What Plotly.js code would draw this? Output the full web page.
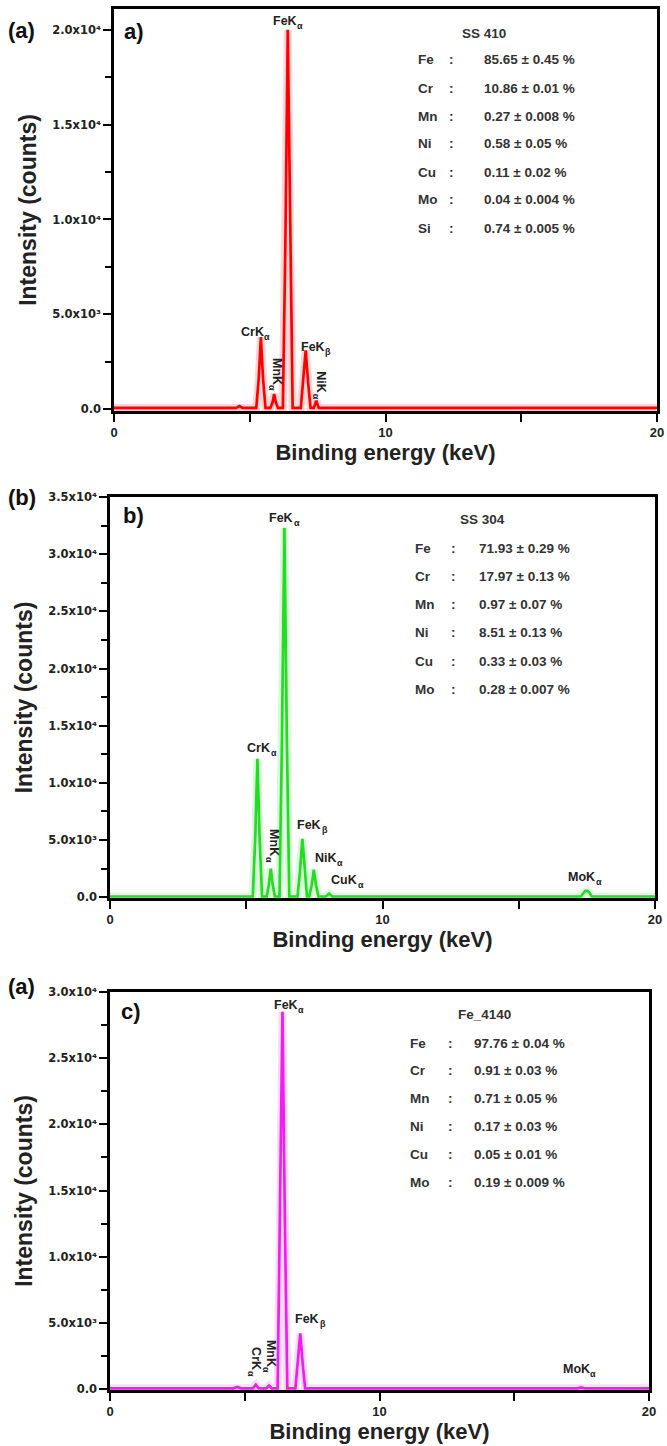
<!DOCTYPE html>
<html><head><meta charset="utf-8">
<script src="https://cdn.plot.ly/plotly-3.0.1.min.js"></script>
<style>html,body{margin:0;padding:0;background:#fff;}#chart{width:667px;height:1446px;}</style>
</head><body><div id="chart"></div>
<script>
// ---------------- DATA ----------------
// Panel a) SS 410 spectrum (energy keV, counts)
const energyA = [0, 4.5, 4.62, 4.74, 5.24, 5.33, 5.41, 5.49, 5.58, 5.76, 5.84, 5.90, 5.96, 6.04, 6.22, 6.31, 6.40, 6.49, 6.58, 6.88, 6.97, 7.06, 7.15, 7.24, 7.36, 7.45, 7.54, 20];
const countsA = [60, 60, 160, 60, 60, 1600, 3800, 1600, 60, 60, 360, 800, 360, 60, 60, 8500, 20000, 8500, 60, 60, 1400, 3100, 1400, 60, 60, 450, 60, 60];
// Panel b) SS 304 spectrum
const energyB = [0, 5.0, 5.24, 5.33, 5.41, 5.49, 5.58, 5.75, 5.83, 5.90, 5.97, 6.05, 6.22, 6.31, 6.40, 6.49, 6.58, 6.88, 6.97, 7.06, 7.15, 7.23, 7.31, 7.40, 7.48, 7.56, 7.65, 7.92, 8.04, 8.16, 17.28, 17.37, 17.44, 17.52, 17.59, 17.68, 20];
const countsB = [60, 60, 60, 5200, 12100, 5200, 60, 60, 1100, 2500, 1100, 60, 60, 13800, 32300, 13800, 60, 60, 2200, 5100, 2200, 60, 60, 1050, 2400, 1050, 60, 60, 320, 60, 60, 400, 560, 560, 400, 60, 60];
// Panel c) Fe_4140 spectrum
const energyC = [0, 4.58, 4.72, 4.86, 5.30, 5.41, 5.52, 5.80, 5.90, 6.00, 6.22, 6.31, 6.40, 6.49, 6.58, 6.88, 6.97, 7.06, 7.15, 7.24, 17.35, 17.48, 17.61, 20];
const countsC = [60, 60, 160, 60, 60, 330, 60, 60, 260, 60, 60, 12500, 28500, 12500, 60, 60, 1900, 4200, 1900, 60, 60, 130, 60, 60];

// Peak labels (line name + subscript)
const peakMainA = ['FeK', 'CrK', 'MnK', 'FeK', 'NiK'];
const peakSubA = ['α', 'α', 'α', 'β', 'α'];
const peakEnergyA = [6.40, 5.41, 5.90, 7.06, 7.45];
const peakHeightA = [20000, 3800, 800, 3100, 450];
const peakMainB = ['FeK', 'CrK', 'MnK', 'FeK', 'NiK', 'CuK', 'MoK'];
const peakSubB = ['α', 'α', 'α', 'β', 'α', 'α', 'α'];
const peakEnergyB = [6.40, 5.41, 5.90, 7.06, 7.48, 8.04, 17.48];
const peakHeightB = [32300, 12100, 2500, 5100, 2400, 320, 560];
const peakMainC = ['FeK', 'CrK', 'MnK', 'FeK', 'MoK'];
const peakSubC = ['α', 'α', 'α', 'β', 'α'];
const peakEnergyC = [6.40, 5.41, 5.90, 7.06, 17.48];
const peakHeightC = [28500, 330, 260, 4200, 130];

// Composition tables
const sampleA = 'SS 410';
const elementsA = ['Fe', 'Cr', 'Mn', 'Ni', 'Cu', 'Mo', 'Si'];
const valuesA = ['85.65 ± 0.45 %', '10.86 ± 0.01 %', '0.27 ± 0.008 %', '0.58 ± 0.05 %', '0.11 ± 0.02 %', '0.04 ± 0.004 %', '0.74 ± 0.005 %'];
const sampleB = 'SS 304';
const elementsB = ['Fe', 'Cr', 'Mn', 'Ni', 'Cu', 'Mo'];
const valuesB = ['71.93 ± 0.29 %', '17.97 ± 0.13 %', '0.97 ± 0.07 %', '8.51 ± 0.13 %', '0.33 ± 0.03 %', '0.28 ± 0.007 %'];
const sampleC = 'Fe_4140';
const elementsC = ['Fe', 'Cr', 'Mn', 'Ni', 'Cu', 'Mo'];
const valuesC = ['97.76 ± 0.04 %', '0.91 ± 0.03 %', '0.71 ± 0.05 %', '0.17 ± 0.03 %', '0.05 ± 0.01 %', '0.19 ± 0.009 %'];

// Tick labels
const xTickVals = [0, 10, 20];
const xTickText = ['0', '10', '20'];
const yTickValsA = [0, 5000, 10000, 15000, 20000];
const yTickTextA = ['0.0', '5.0x10³', '1.0x10⁴', '1.5x10⁴', '2.0x10⁴'];
const yTickValsB = [0, 5000, 10000, 15000, 20000, 25000, 30000, 35000];
const yTickTextB = ['0.0', '5.0x10³', '1.0x10⁴', '1.5x10⁴', '2.0x10⁴', '2.5x10⁴', '3.0x10⁴', '3.5x10⁴'];
const yTickValsC = [0, 5000, 10000, 15000, 20000, 25000, 30000];
const yTickTextC = ['0.0', '5.0x10³', '1.0x10⁴', '1.5x10⁴', '2.0x10⁴', '2.5x10⁴', '3.0x10⁴'];

const outerLabels = ['(a)', '(b)', '(a)'];
const innerLabels = ['a)', 'b)', 'c)'];
const xTitle = 'Binding energy (keV)';
const yTitle = 'Intensity (counts)';

// ---------------- LAYOUT / STYLE ----------------
const W = 667, H = 1446;
const fx = p => p / W;
const fy = p => 1 - p / H;
const FONT = 'Liberation Sans, Arial, sans-serif';
const TICKFONT = 'DejaVu Sans, Liberation Sans, sans-serif';
const LBL = 12.5, SUB = 9;

const ctx = document.createElement('canvas').getContext('2d');
function textW(t, size) { ctx.font = 'bold ' + size + 'px "Liberation Sans", Arial, sans-serif'; return ctx.measureText(t).width; }

const panels = [
  {e: energyA, c: countsA, color: '#ff0000', box: [114, 657, 9, 411], yr: [-100, 21100], tv: yTickValsA, tt: yTickTextA,
   main: peakMainA, sub: peakSubA, pe: peakEnergyA, ph: peakHeightA,
   shifts: [[0, 9, 0], [-6, 5, 0], [3, 20, 90], [10, 3, 0], [5, 15, 90]],
   sample: sampleA, els: elementsA, vals: valuesA, tab: {tx: 484, ty: 33, ex: 416, cx: 452, vx: 482, y0: 60, dy: 28},
   outer: [6, 30], inner: [122, 31]},
  {e: energyB, c: countsB, color: '#22dd22', box: [110, 655, 497, 898], yr: [-70, 35000], tv: yTickValsB, tt: yTickTextB,
   main: peakMainB, sub: peakSubB, pe: peakEnergyB, ph: peakHeightB,
   shifts: [[0, 10, 0], [4, 11, 0], [3, 23, 90], [10, 14, 0], [15, 12, 0], [18, 14, 0], [-2, 14, 0]],
   sample: sampleB, els: elementsB, vals: valuesB, tab: {tx: 482, ty: 519, ex: 413, cx: 453, vx: 477, y0: 548, dy: 28.3},
   outer: [6, 497], inner: [121, 515]},
  {e: energyC, c: countsC, color: '#f01ef0', box: [110, 649, 992, 1390], yr: [-70, 30000], tv: yTickValsC, tt: yTickTextC,
   main: peakMainC, sub: peakSubC, pe: peakEnergyC, ph: peakHeightC,
   shifts: [[6, 7, 0], [0, 23, 90], [2, 30, 90], [10, 14, 0], [-2, 18, 0]],
   sample: sampleC, els: elementsC, vals: valuesC, tab: {tx: 484, ty: 1015, ex: 408, cx: 450, vx: 472, y0: 1043, dy: 27.8},
   outer: [6, 986], inner: [119, 1012]}
];

const traces = [];
const layout = {
  width: W, height: H,
  margin: {l: 0, r: 0, t: 0, b: 0},
  paper_bgcolor: '#ffffff', plot_bgcolor: '#ffffff',
  showlegend: false,
  annotations: []
};

panels.forEach((p, i) => {
  const n = i === 0 ? '' : String(i + 1);
  const xa = 'x' + n, ya = 'y' + n;
  // soft halo (blur of the scanned figure)
  traces.push({x: p.e, y: p.c, xaxis: xa, yaxis: ya, type: 'scatter', mode: 'lines',
    line: {color: p.color, width: 8}, opacity: 0.16, hoverinfo: 'skip'});
  traces.push({x: p.e, y: p.c, xaxis: xa, yaxis: ya, type: 'scatter', mode: 'lines',
    line: {color: p.color, width: 2.7}, name: p.sample});

  const [l, r, t, b] = p.box;
  layout['xaxis' + n] = {
    domain: [fx(l), fx(r)], anchor: ya, range: [0, 20],
    tickmode: 'array', tickvals: xTickVals, ticktext: xTickText,
    ticks: 'outside', ticklen: 8, tickwidth: 2, tickcolor: '#000',
    minor: {tickmode: 'array', tickvals: [5, 15], ticks: 'outside', ticklen: 8, tickwidth: 2, tickcolor: '#000'},
    showline: true, linewidth: 2.6, linecolor: '#000', mirror: true,
    showgrid: false, zeroline: false,
    tickfont: {family: FONT, size: 13, color: '#222', weight: 'bold'},
    title: {text: xTitle, font: {family: FONT, size: 22, color: '#222', weight: 'bold'}, standoff: 5}
  };
  layout['yaxis' + n] = {
    domain: [fy(b), fy(t)], anchor: xa, range: p.yr,
    tickmode: 'array', tickvals: p.tv, ticktext: p.tt,
    ticks: 'outside', ticklen: 8, tickwidth: 2, tickcolor: '#000',
    minor: {dtick: 2500, ticks: 'outside', ticklen: 6, tickwidth: 2, tickcolor: '#000'},
    showline: true, linewidth: 2.6, linecolor: '#000', mirror: true,
    showgrid: false, zeroline: false,
    tickfont: {family: TICKFONT, size: 11.5, color: '#222', weight: 'bold'},
    title: {text: yTitle, font: {family: FONT, size: 23, color: '#222', weight: 'bold'}, standoff: 10}
  };

  // peak labels: main text + subscript Greek letter, placed as two texts
  p.main.forEach((mt, k) => {
    const s = p.shifts[k];
    const wm = textW(mt, LBL), ws = textW(p.sub[k], SUB);
    const off = (wm - ws) / 2;
    const common = {xref: xa, yref: ya, x: p.pe[k], y: p.ph[k], showarrow: false, borderpad: 0, borderwidth: 0};
    if (s[2] === 0) {
      layout.annotations.push(Object.assign({}, common, {text: mt, xanchor: 'right', yanchor: 'middle',
        xshift: s[0] + off, yshift: s[1], font: {family: FONT, size: LBL, color: '#222', weight: 'bold'}}));
      layout.annotations.push(Object.assign({}, common, {text: p.sub[k], xanchor: 'left', yanchor: 'middle',
        xshift: s[0] + off + 0.5, yshift: s[1] - 5, font: {family: FONT, size: SUB, color: '#222', weight: 'bold'}}));
    } else {
      layout.annotations.push(Object.assign({}, common, {text: mt, xanchor: 'center', yanchor: 'bottom', textangle: 90,
        xshift: s[0], yshift: s[1] - off, font: {family: FONT, size: LBL, color: '#222', weight: 'bold'}}));
      layout.annotations.push(Object.assign({}, common, {text: p.sub[k], xanchor: 'center', yanchor: 'top', textangle: 90,
        xshift: s[0] - 5, yshift: s[1] - off - 0.5, font: {family: FONT, size: SUB, color: '#222', weight: 'bold'}}));
    }
  });

  // outer & inner panel labels
  layout.annotations.push({xref: 'paper', yref: 'paper', x: fx(p.outer[0]), y: fy(p.outer[1]), text: outerLabels[i],
    showarrow: false, xanchor: 'left', yanchor: 'middle', font: {family: FONT, size: 22, color: '#111', weight: 'bold'}});
  layout.annotations.push({xref: 'paper', yref: 'paper', x: fx(p.inner[0]), y: fy(p.inner[1]), text: innerLabels[i],
    showarrow: false, xanchor: 'left', yanchor: 'middle', font: {family: FONT, size: 22, color: '#111', weight: 'bold'}});

  // composition table
  const tb = p.tab;
  const tf = {family: FONT, size: 13.5, color: '#333', weight: 'bold'};
  layout.annotations.push({xref: 'paper', yref: 'paper', x: fx(tb.tx), y: fy(tb.ty), text: p.sample,
    showarrow: false, xanchor: 'center', yanchor: 'middle', font: tf});
  p.els.forEach((el, k) => {
    const yy = fy(tb.y0 + k * tb.dy);
    layout.annotations.push({xref: 'paper', yref: 'paper', x: fx(tb.ex), y: yy, text: el, showarrow: false, xanchor: 'left', yanchor: 'middle', font: tf});
    layout.annotations.push({xref: 'paper', yref: 'paper', x: fx(tb.cx), y: yy, text: ':', showarrow: false, xanchor: 'center', yanchor: 'middle', font: tf});
    layout.annotations.push({xref: 'paper', yref: 'paper', x: fx(tb.vx), y: yy, text: p.vals[k], showarrow: false, xanchor: 'left', yanchor: 'middle', font: tf});
  });
});

Plotly.newPlot('chart', traces, layout, {staticPlot: true, displayModeBar: false});
</script></body></html>
